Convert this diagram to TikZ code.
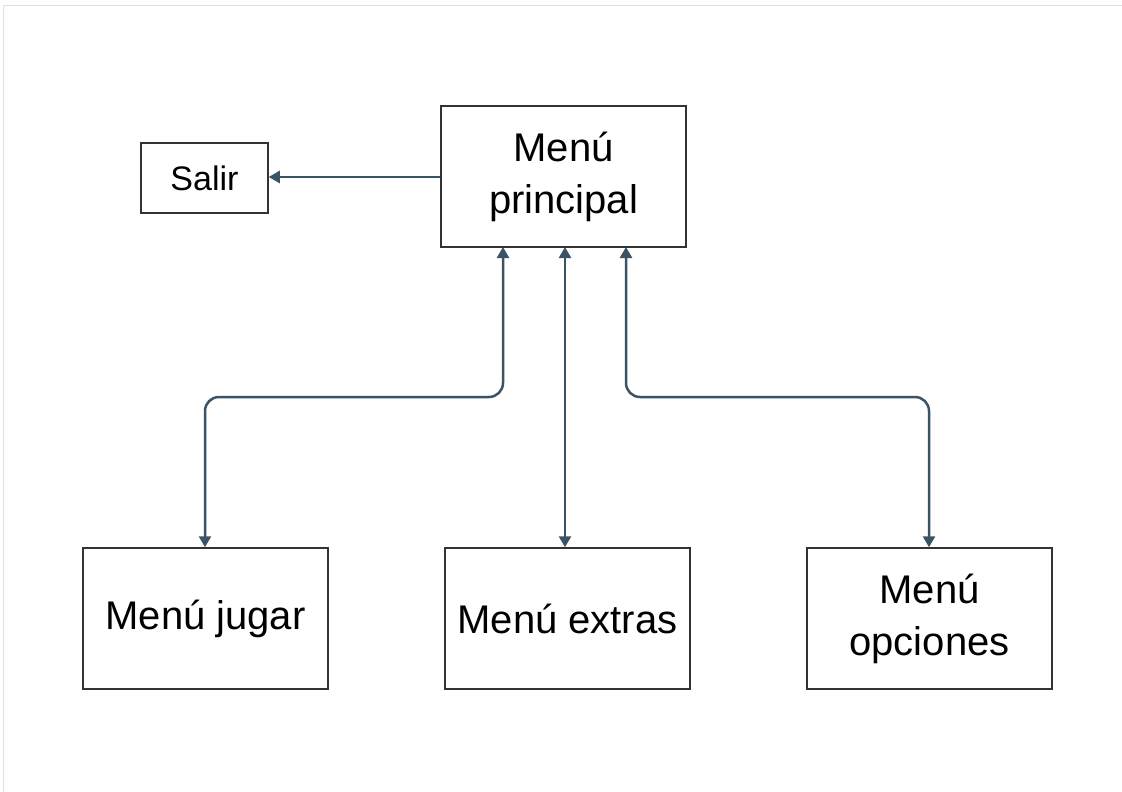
\documentclass[tikz,border=0pt]{standalone}
\usepackage{fontspec}
\setmainfont{Liberation Sans}
\usetikzlibrary{arrows.meta}
\definecolor{conn}{HTML}{3A5365}
\definecolor{boxline}{HTML}{333333}
\tikzset{
  menubox/.style={draw=boxline, line width=1.5pt, fill=white, minimum width=245pt, minimum height=141pt, align=center, inner sep=0pt, font=\fontsize{40}{52}\selectfont},
  smallbox/.style={draw=boxline, line width=1.5pt, fill=white, minimum width=127pt, minimum height=70pt, align=center, inner sep=0pt, font=\fontsize{34}{40}\selectfont},
  link/.style={draw=conn, line width=2.5pt, rounded corners=14pt, -{Triangle[length=11pt,width=12pt]}},
  biLink/.style={draw=conn, line width=2.5pt, rounded corners=14pt, {Triangle[length=11pt,width=12pt]}-{Triangle[length=11pt,width=12pt]}}
}
\begin{document}
\begin{tikzpicture}[x=1pt,y=-1pt]
\useasboundingbox (0,0) rectangle (1122,792);
\draw[black!12, line width=1pt] (3.5,792) -- (3.5,5.5) -- (1122,5.5);
\node[menubox] (main) at (563.5,176.5) {Menú\\principal};
\node[smallbox] (salir) at (204.5,178) {Salir};
\node[menubox] (jugar) at (205.5,618.5) {Menú jugar};
\node[menubox] (extras) at (567.5,618.5) {Menú extras};
\node[menubox] (opciones) at (929.5,618.5) {Menú\\opciones};
\coordinate (mj) at (503,247);
\coordinate (mo) at (626,247);
\draw[link] (main.west |- 0,177) -- (salir.east |- 0,177);
\draw[biLink] (mj) -- (503,397) -- (205,397) -- (jugar.north -| 205,0);
\draw[biLink] (565,247) -- (extras.north -| 565,0);
\draw[biLink] (mo) -- (626,397) -- (929,397) -- (opciones.north -| 929,0);
\end{tikzpicture}
\end{document}
